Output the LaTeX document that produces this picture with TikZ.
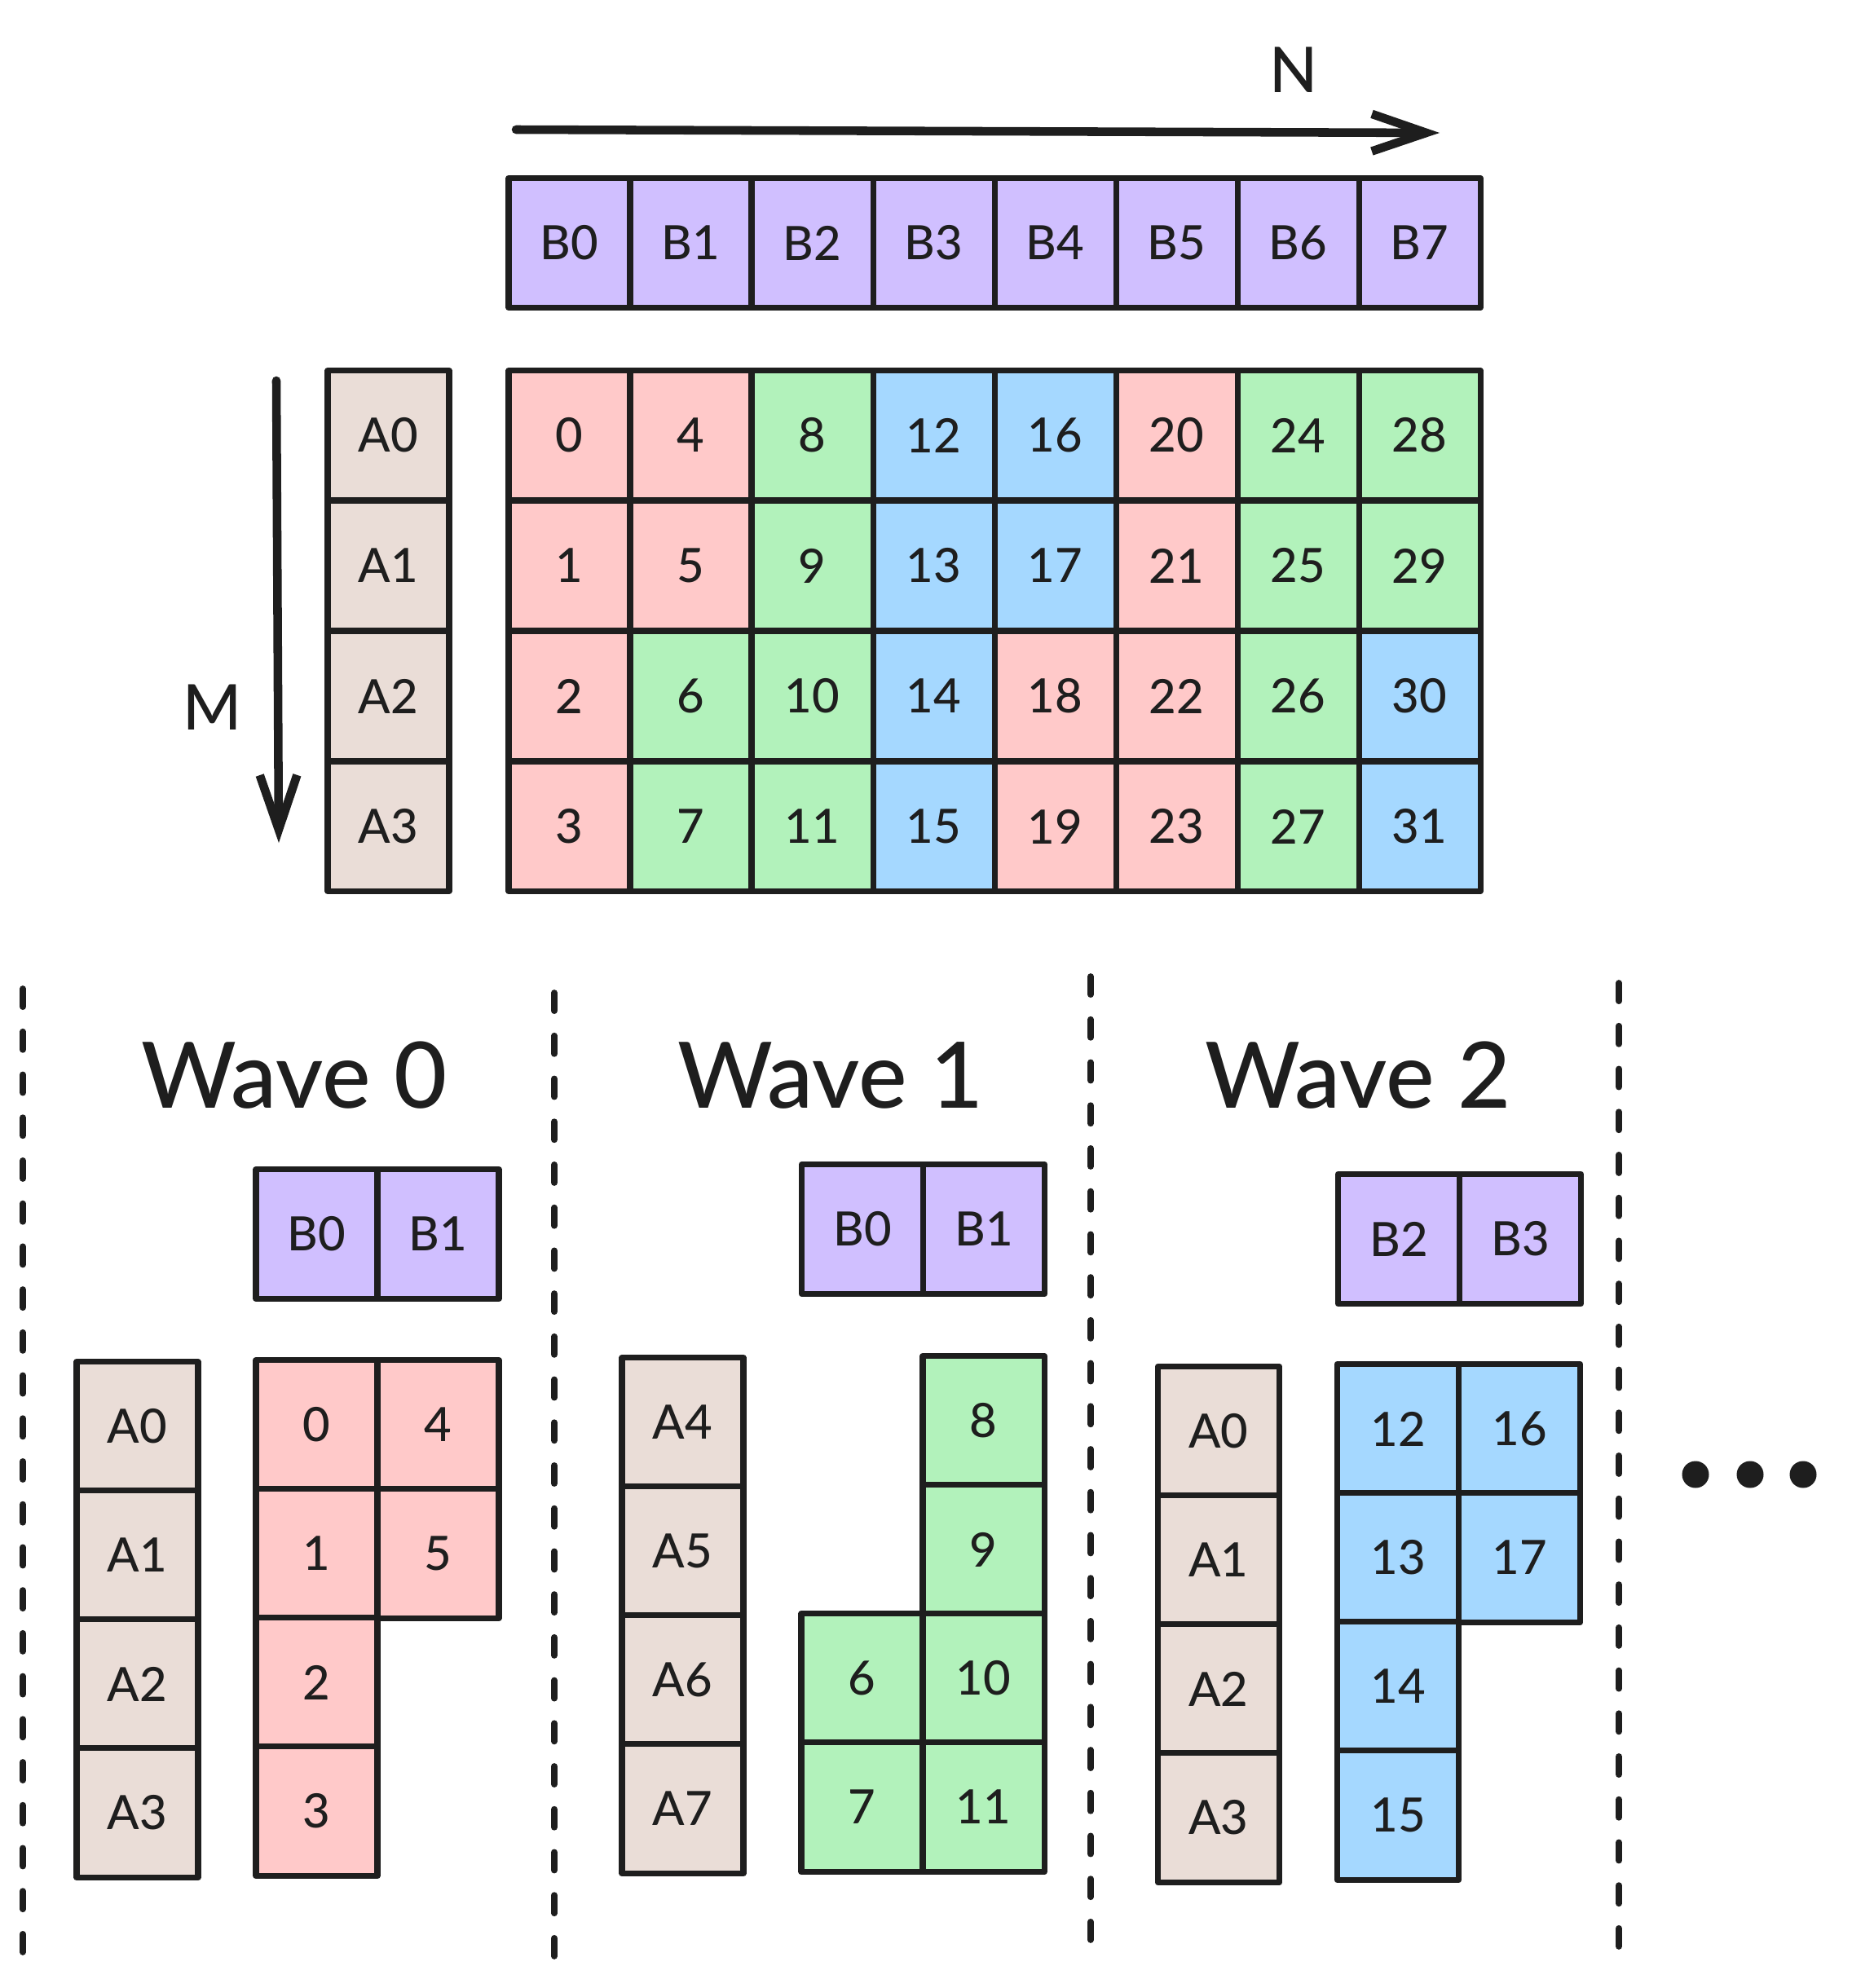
\documentclass[tikz,border=0pt]{standalone}
\usepackage{fontspec}
\setmainfont{Lato}[UprightFont=* Medium]
\usetikzlibrary{arrows.meta}
\definecolor{ink}{HTML}{1E1E1E}
\definecolor{bpurple}{HTML}{D0BFFF}
\definecolor{cpink}{HTML}{FFC9C9}
\definecolor{cgreen}{HTML}{B2F2BB}
\definecolor{cblue}{HTML}{A5D8FF}
\definecolor{atan}{HTML}{EADDD7}
\tikzstyle{cell}=[draw=ink, line width=2pt, line join=round, minimum width=1.49cm, minimum height=1.59cm, inner sep=0, text=ink, font=\fontsize{16.5}{18}\selectfont]
\tikzstyle{bcell}=[cell, fill=bpurple]
\tikzstyle{acell}=[cell, fill=atan]
\tikzstyle{axis}=[draw=ink, line width=3pt, line cap=round, -{Straight Barb[length=19pt, width=13pt, line width=3pt]}]
\tikzstyle{axis label}=[text=ink, font=\fontsize{22}{24}\selectfont]
\tikzstyle{wave title}=[text=ink, font=\fontsize{32}{36}\selectfont]
\tikzstyle{divider}=[draw=ink, line width=2.2pt, line cap=round, dash pattern=on 6.3pt off 8.7pt]

\begin{document}
\begin{tikzpicture}
          \useasboundingbox (0, 0) rectangle (22.71, -24.39);

          % axes
          \coordinate (n_start) at (6.33, -1.59);
          \coordinate (n_end) at (17.66, -1.63);
          \coordinate (m_start) at (3.39, -4.67);
          \coordinate (m_end) at (3.42, -10.34);
          \draw[axis] (n_start) -- (n_end);
          \draw[axis] (m_start) -- (m_end);
          \node[axis label] (n_label) at (15.87, -0.86) {N};
          \node[axis label] (m_label) at (2.61, -8.68) {M};

          % full tile
          \foreach \i in {0,...,7}
            \node[bcell] (b_\i) at (6.985 + 1.49*\i, -2.98) {B\i};
          \foreach \j in {0,...,3}
            \node[acell] (a_\j) at (4.765, -5.34 - 1.6*\j) {A\j};
          \foreach \n/\clr in {0/cpink, 1/cpink, 2/cpink, 3/cpink,
                               4/cpink, 5/cpink, 6/cgreen, 7/cgreen,
                               8/cgreen, 9/cgreen, 10/cgreen, 11/cgreen,
                               12/cblue, 13/cblue, 14/cblue, 15/cblue,
                               16/cblue, 17/cblue, 18/cpink, 19/cpink,
                               20/cpink, 21/cpink, 22/cpink, 23/cpink,
                               24/cgreen, 25/cgreen, 26/cgreen, 27/cgreen,
                               28/cgreen, 29/cgreen, 30/cblue, 31/cblue} {
            \pgfmathtruncatemacro{\col}{\n/4}
            \pgfmathtruncatemacro{\row}{mod(\n,4)}
            \node[cell, fill=\clr] (c_\n) at (6.985 + 1.49*\col, -5.34 - 1.6*\row) {\n};
          }

          % dividers
          \coordinate (d0_top) at (0.28, -12.13);
          \coordinate (d0_bot) at (0.28, -24.11);
          \coordinate (d1_top) at (6.80, -12.18);
          \coordinate (d1_bot) at (6.80, -24.11);
          \coordinate (d2_top) at (13.38, -11.98);
          \coordinate (d2_bot) at (13.38, -23.91);
          \coordinate (d3_top) at (19.86, -12.06);
          \coordinate (d3_bot) at (19.86, -24.03);
          \foreach \d in {0,...,3}
            \draw[divider] (d\d_top) -- (d\d_bot);

          % wave 0
          \node[wave title] (w0_title) at (3.61, -13.19) {Wave 0};
          \node[bcell] (w0_b_0) at (3.885, -15.14) {B0};
          \node[bcell] (w0_b_1) at (5.375, -15.14) {B1};
          \foreach \j in {0,...,3}
            \node[acell] (w0_a_\j) at (1.685, -17.50 - 1.58*\j) {A\j};
          \foreach \n/\col/\row in {0/0/0, 1/0/1, 2/0/2, 3/0/3, 4/1/0, 5/1/1}
            \node[cell, fill=cpink] (w0_c_\n) at (3.885 + 1.49*\col, -17.48 - 1.58*\row) {\n};

          % wave 1
          \node[wave title] (w1_title) at (10.19, -13.19) {Wave 1};
          \node[bcell] (w1_b_0) at (10.58, -15.08) {B0};
          \node[bcell] (w1_b_1) at (12.07, -15.08) {B1};
          \foreach \j/\a in {0/4, 1/5, 2/6, 3/7}
            \node[acell] (w1_a_\a) at (8.375, -17.45 - 1.58*\j) {A\a};
          \foreach \n/\col/\row in {6/0/2, 7/0/3, 8/1/0, 9/1/1, 10/1/2, 11/1/3}
            \node[cell, fill=cgreen] (w1_c_\n) at (10.575 + 1.49*\col, -17.43 - 1.58*\row) {\n};

          % wave 2
          \node[wave title] (w2_title) at (16.66, -13.19) {Wave 2};
          \node[bcell] (w2_b_2) at (17.16, -15.20) {B2};
          \node[bcell] (w2_b_3) at (18.65, -15.20) {B3};
          \foreach \j in {0,...,3}
            \node[acell] (w2_a_\j) at (14.95, -17.56 - 1.58*\j) {A\j};
          \foreach \n/\col/\row in {12/0/0, 13/0/1, 14/0/2, 15/0/3, 16/1/0, 17/1/1}
            \node[cell, fill=cblue] (w2_c_\n) at (17.15 + 1.49*\col, -17.53 - 1.58*\row) {\n};

          % more waves
          \foreach \x in {20.80, 21.47, 22.12}
            \fill[ink] (\x, -18.09) circle (0.165);
        \end{tikzpicture}
\end{document}
